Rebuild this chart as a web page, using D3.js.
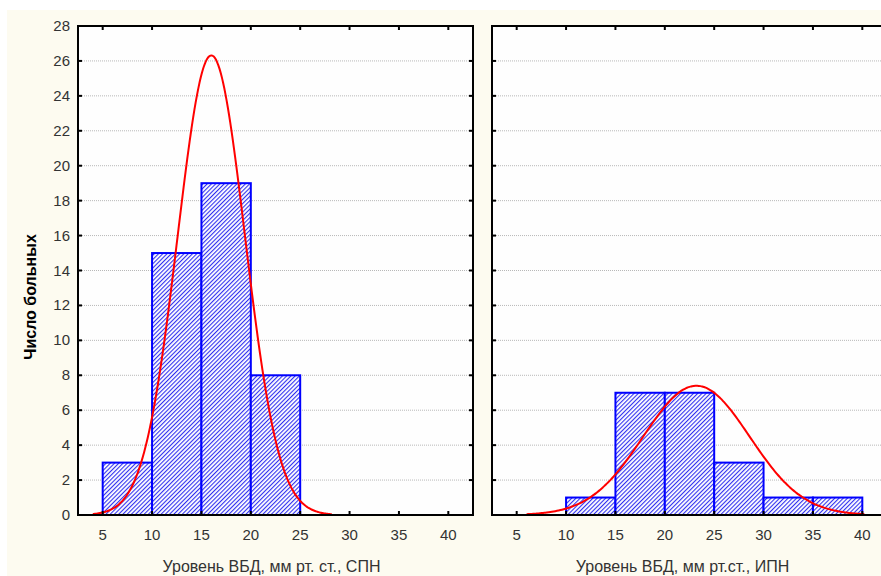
<!DOCTYPE html>
<html>
<head>
<meta charset="utf-8">
<script src="https://cdn.jsdelivr.net/npm/d3@7"></script>
<style>
  html, body { margin: 0; padding: 0; background: #ffffff; }
  svg { display: block; }
</style>
</head>
<body>
<svg id="chart" width="881" height="576"></svg>
<script>
// Histogram bins (lower edges) and counts for each group
const binStartsSPN = [5, 10, 15, 20];
const countsSPN = [3, 15, 19, 8];
const binStartsIPN = [10, 15, 20, 25, 30, 35];
const countsIPN = [1, 7, 7, 3, 1, 1];
const binWidth = 5;

// Fitted normal curves: [mean, sd, n, from, to]
const fitSPN = [16.0, 3.41, 45, 4.0, 28.2];
const fitIPN = [23.2, 5.39, 20, 6.0, 40.2];

const xTicks = [5, 10, 15, 20, 25, 30, 35, 40];
const yTicks = [0, 2, 4, 6, 8, 10, 12, 14, 16, 18, 20, 22, 24, 26, 28];
const titleSPN = "Уровень ВБД, мм рт. ст., СПН";
const titleIPN = "Уровень ВБД, мм рт.ст., ИПН";
const yTitle = "Число больных";

const svg = d3.select("#chart");
const font = "'Liberation Sans', Arial, sans-serif";

// cream page background
svg.append("rect").attr("x", 7).attr("y", 10).attr("width", 874).attr("height", 566).attr("fill", "#fdfbf0");

const defs = svg.append("defs");
const pat = defs.append("pattern")
  .attr("id", "hatch").attr("patternUnits", "userSpaceOnUse")
  .attr("width", 3).attr("height", 10)
  .attr("patternTransform", "rotate(45)");
pat.append("rect").attr("width", 3).attr("height", 10).attr("fill", "#ffffff");
pat.append("rect").attr("width", 1.1).attr("height", 10).attr("fill", "#3030f0");

const plotTop = 26, plotBottom = 515;
const y = d3.scaleLinear().domain([0, 28]).range([plotBottom, plotTop]);

function panel(left, right, starts, counts, fit, title, showY) {
  const x = d3.scaleLinear().domain([2.5, 42.5]).range([left, right]);
  const g = svg.append("g");
  g.append("rect").attr("x", left).attr("y", plotTop).attr("width", right - left)
    .attr("height", plotBottom - plotTop).attr("fill", "#fefefe");

  // dotted horizontal grid
  g.append("g").selectAll("line").data(yTicks.filter(t => t > 0 && t < 28)).join("line")
    .attr("x1", left).attr("x2", right)
    .attr("y1", d => y(d)).attr("y2", d => y(d))
    .attr("stroke", "#b8b8b8").attr("stroke-width", 1).attr("stroke-dasharray", "1,1");

  // bars
  g.append("g").selectAll("rect").data(starts.map((s, i) => ({ s, c: counts[i] }))).join("rect")
    .attr("x", d => x(d.s)).attr("width", d => x(d.s + binWidth) - x(d.s))
    .attr("y", d => y(d.c)).attr("height", d => y(0) - y(d.c))
    .attr("fill", "url(#hatch)").attr("stroke", "#0000ff").attr("stroke-width", 2);

  // fitted normal curve
  const [mu, sd, n, from, to] = fit;
  const pts = d3.range(from, to + 0.001, (to - from) / 200).map(v =>
    [v, n * binWidth / (sd * Math.sqrt(2 * Math.PI)) * Math.exp(-((v - mu) ** 2) / (2 * sd * sd))]);
  g.append("path").datum(pts)
    .attr("d", d3.line().x(d => x(d[0])).y(d => y(d[1])).curve(d3.curveBasis))
    .attr("fill", "none").attr("stroke", "#ff0000").attr("stroke-width", 2);

  // inner ticks on all sides
  const tk = 4;
  g.append("g").selectAll("line").data(xTicks).join("line")
    .attr("x1", d => x(d)).attr("x2", d => x(d)).attr("y1", plotBottom).attr("y2", plotBottom - tk)
    .attr("stroke", "#000").attr("stroke-width", 2);
  g.append("g").selectAll("line").data(xTicks).join("line")
    .attr("x1", d => x(d)).attr("x2", d => x(d)).attr("y1", plotTop).attr("y2", plotTop + tk)
    .attr("stroke", "#000").attr("stroke-width", 2);
  g.append("g").selectAll("line").data(yTicks).join("line")
    .attr("x1", left).attr("x2", left + tk).attr("y1", d => y(d)).attr("y2", d => y(d))
    .attr("stroke", "#000").attr("stroke-width", 2);
  g.append("g").selectAll("line").data(yTicks).join("line")
    .attr("x1", right).attr("x2", right - tk).attr("y1", d => y(d)).attr("y2", d => y(d))
    .attr("stroke", "#000").attr("stroke-width", 2);

  // frame
  g.append("rect").attr("x", left).attr("y", plotTop).attr("width", right - left)
    .attr("height", plotBottom - plotTop).attr("fill", "none").attr("stroke", "#000").attr("stroke-width", 2);

  // x tick labels
  g.append("g").selectAll("text").data(xTicks).join("text")
    .attr("x", d => x(d)).attr("y", 540).attr("text-anchor", "middle")
    .attr("font-family", font).attr("font-size", 15).attr("fill", "#333")
    .text(d => d);

  if (showY) {
    g.append("g").selectAll("text").data(yTicks).join("text")
      .attr("x", left - 8).attr("y", d => y(d) + 5).attr("text-anchor", "end")
      .attr("font-family", font).attr("font-size", 15).attr("fill", "#333")
      .text(d => d);
  }

  g.append("text").attr("x", (left + Math.min(right, 881)) / 2 + (showY ? -4 : -4)).attr("y", 572)
    .attr("text-anchor", "middle").attr("font-family", font).attr("font-size", 16).attr("fill", "#333")
    .text(title);
}

panel(78, 473, binStartsSPN, countsSPN, fitSPN, titleSPN, true);
panel(492, 887, binStartsIPN, countsIPN, fitIPN, titleIPN, false);

svg.append("text").attr("transform", "translate(36,297) rotate(-90)")
  .attr("text-anchor", "middle").attr("font-family", font).attr("font-size", 16)
  .attr("font-weight", "bold").attr("fill", "#000").text(yTitle);
</script>
</body>
</html>
